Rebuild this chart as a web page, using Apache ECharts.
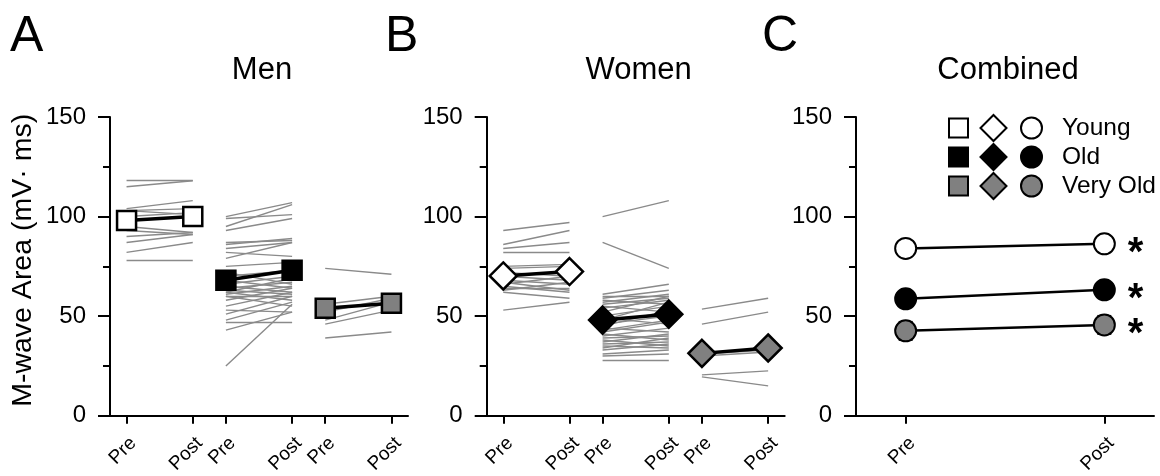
<!DOCTYPE html>
<html>
<head>
<meta charset="utf-8">
<script src="https://cdn.jsdelivr.net/npm/echarts@6/dist/echarts.min.js"></script>
<style>html,body{margin:0;padding:0;background:#fff}#c{width:1160px;height:476px}</style>
</head>
<body>
<div id="c"></div>
<script>
// ---- tick labels / positions ----
const tickLabels = ['Pre', 'Post', 'Pre', 'Post', 'Pre', 'Post'];
const tickPos = [0, 2, 3, 5, 6, 8];
const combTickLabels = ['Pre', 'Post'];
const combTickPos = [0, 1];
const groups = ['Young', 'Old', 'Very Old'];
const panelTitles = ['Men', 'Women', 'Combined'];

// ---- Men individual data ----
const menYoungPre  = [118, 115, 104, 103, 100, 98, 95, 93, 90, 87, 82, 78, 103];
const menYoungPost = [118, 118, 108, 104, 102, 100, 92, 91, 92, 91, 87, 78, 101];
const menOldPre  = [100, 99, 95, 93, 87, 86, 84, 82, 79, 75, 72, 70, 68, 66, 65, 64, 63, 62, 61, 60, 60, 58, 55, 53, 51, 48, 47, 43, 25, 62];
const menOldPost = [107, 101, 106, 99, 88, 89, 87, 80, 87, 77, 66, 73, 64, 70, 62, 67, 61, 58, 65, 55, 60, 64, 62, 52, 60, 57, 47, 52, 56, 69];
const menVeryOldPre  = [74, 56, 52, 48, 46, 39];
const menVeryOldPost = [71, 60, 59, 57, 53, 42];
const menMeanPre  = [98, 68, 54];
const menMeanPost = [100, 73, 56.5];

// ---- Women individual data ----
const womenYoungPre  = [93, 86, 84, 82, 75, 74, 72, 70, 68, 66, 65, 64, 63, 62, 53, 67];
const womenYoungPost = [97, 93, 87, 82, 76, 75, 70, 68, 66, 70, 62, 64, 67, 59, 57, 63];
const womenOldPre  = [100, 87, 61, 60, 59, 58, 57, 56, 55, 54, 52, 50, 49, 48, 46, 45, 44, 43, 42, 41, 40, 39, 38, 37, 36, 35, 34, 33, 31, 30, 28];
const womenOldPost = [108, 74, 66, 60, 63, 56, 61, 59, 52, 58, 60, 55, 46, 57, 50, 53, 42, 48, 47, 38, 44, 40, 35, 41, 37, 34, 39, 36, 33, 31, 28];
const womenVeryOldPre  = [53.5, 46, 31, 30, 20.5, 19.5];
const womenVeryOldPost = [59, 52, 33, 32, 22.5, 15];
const womenMeanPre  = [70.2, 48, 31.3];
const womenMeanPost = [72.4, 51, 34];

// ---- Combined ----
const combMeanPre  = [84, 58.7, 42.6];
const combMeanPost = [86.3, 63.2, 45.6];
const combErrPre  = [1.5, 2, 4.5];
const combErrPost = [1.5, 2, 4.5];

const FONT = '"Liberation Sans", Arial, sans-serif';
const fills = ['#ffffff', '#000000', '#808080'];
const GRAY = '#8a8a8a';

const gridLefts = [110, 486.7, 856];
const GRID_W = 298, GRID_TOP = 117, GRID_H = 298.7;

function yAxis(i) {
  return {
    type: 'value', gridIndex: i, min: 0, max: 150, interval: 50,
    axisLine: { show: true, onZero: false, lineStyle: { color: '#000', width: 2 } },
    axisTick: { show: true, length: 12, lineStyle: { color: '#000', width: 2 } },
    minorTick: { show: true, splitNumber: 2, length: 7, lineStyle: { color: '#000', width: 2 } },
    splitLine: { show: false },
    axisLabel: { margin: 24, fontSize: 24, color: '#000', fontFamily: FONT },
    name: i === 0 ? 'M-wave Area (mV\u00b7 ms)' : '',
    nameLocation: 'middle', nameGap: 72, nameRotate: 90,
    nameTextStyle: { fontSize: 28.5, color: '#000', fontFamily: FONT, padding: [0, 0, 0, 12] }
  };
}
function xAxis(i, pos, labels, min, max) {
  return {
    type: 'value', gridIndex: i, min: min, max: max,
    axisLine: { show: true, onZero: false, lineStyle: { color: '#000', width: 2 } },
    axisTick: { show: true, length: 8, customValues: pos, lineStyle: { color: '#000', width: 2 } },
    axisLabel: {
      customValues: pos, rotate: 45, margin: 18, verticalAlign: 'top', fontSize: 19, color: '#000', fontFamily: FONT,
      formatter: v => labels[pos.indexOf(v)] || ''
    },
    splitLine: { show: false }
  };
}

const series = [];
function indiv(axis, x0, x1, pre, post) {
  series.push({
    type: 'lines', coordinateSystem: 'cartesian2d', xAxisIndex: axis, yAxisIndex: axis, z: 2,
    silent: true,
    lineStyle: { color: GRAY, width: 1.4, opacity: 1, curveness: 0 },
    data: pre.map((p, k) => ({ coords: [[x0, p], [x1, post[k]]] }))
  });
}
indiv(0, 0, 2, menYoungPre, menYoungPost);
indiv(0, 3, 5, menOldPre, menOldPost);
indiv(0, 6, 8, menVeryOldPre, menVeryOldPost);
indiv(1, 0, 2, womenYoungPre, womenYoungPost);
indiv(1, 3, 5, womenOldPre, womenOldPost);
indiv(1, 6, 8, womenVeryOldPre, womenVeryOldPost);

function meanSeries(axis, symbol, size, preArr, postArr) {
  groups.forEach((g, k) => {
    series.push({
      type: 'line', name: g, xAxisIndex: axis, yAxisIndex: axis, z: 5,
      symbol: symbol, symbolSize: size, showSymbol: true,
      lineStyle: { color: '#000', width: 3.5 },
      itemStyle: { color: fills[k], borderColor: '#000', borderWidth: 2.5, opacity: 1 },
      data: [[tickPos[2 * k], preArr[k]], [tickPos[2 * k + 1], postArr[k]]]
    });
  });
}
meanSeries(0, 'rect', 19, menMeanPre, menMeanPost);
meanSeries(1, 'diamond', 27, womenMeanPre, womenMeanPost);

// combined error bars
series.push({
  type: 'custom', xAxisIndex: 2, yAxisIndex: 2, z: 4, silent: true,
  data: groups.flatMap((g, k) => [
    [0, combMeanPre[k] - combErrPre[k], combMeanPre[k] + combErrPre[k]],
    [1, combMeanPost[k] - combErrPost[k], combMeanPost[k] + combErrPost[k]]
  ]),
  renderItem: (params, api) => {
    const x = api.value(0);
    const lo = api.coord([x, api.value(1)]);
    const hi = api.coord([x, api.value(2)]);
    const w = 7, st = { stroke: '#000', lineWidth: 2 };
    return { type: 'group', children: [
      { type: 'line', shape: { x1: lo[0], y1: lo[1], x2: hi[0], y2: hi[1] }, style: st },
      { type: 'line', shape: { x1: lo[0] - w, y1: lo[1], x2: lo[0] + w, y2: lo[1] }, style: st },
      { type: 'line', shape: { x1: hi[0] - w, y1: hi[1], x2: hi[0] + w, y2: hi[1] }, style: st }
    ]};
  }
});
groups.forEach((g, k) => {
  series.push({
    type: 'line', name: g, xAxisIndex: 2, yAxisIndex: 2, z: 5,
    symbol: 'circle', symbolSize: 21, showSymbol: true,
    lineStyle: { color: '#000', width: 2.5 },
    itemStyle: { color: fills[k], borderColor: '#000', borderWidth: 2, opacity: 1 },
    data: [
      [0, combMeanPre[k]],
      { value: [1, combMeanPost[k]], label: { show: true, formatter: '*', position: 'right', distance: 12,
        fontSize: 40, fontWeight: 'bold', color: '#000', fontFamily: FONT, offset: [0, 10] } }
    ]
  });
});

// ---- graphic: panel letters, titles, legend ----
const graphic = [];
const letters = ['A', 'B', 'C'];
const letterX = [10, 385, 762];
letters.forEach((L, i) => graphic.push({ type: 'text', left: letterX[i], top: 12,
  style: { text: L, fontSize: 50, fontFamily: FONT, fill: '#000' } }));
panelTitles.forEach((t, i) => graphic.push({ type: 'text', x: gridLefts[i] + GRID_W / 2 + 3, y: 70,
  style: { text: t, fontSize: 31, fontFamily: FONT, fill: '#000', align: 'center', verticalAlign: 'middle' } }));
const legY = [128, 157, 186];
groups.forEach((g, k) => {
  const y = legY[k];
  graphic.push({ type: 'rect', shape: { x: 949, y: y - 9.5, width: 19, height: 19 },
    style: { fill: fills[k], stroke: '#000', lineWidth: 2 } });
  graphic.push({ type: 'polygon', shape: { points: [[993.5, y - 13], [1006.5, y], [993.5, y + 13], [980.5, y]] },
    style: { fill: fills[k], stroke: '#000', lineWidth: 2 } });
  graphic.push({ type: 'circle', shape: { cx: 1031.5, cy: y, r: 10.5 },
    style: { fill: fills[k], stroke: '#000', lineWidth: 2 } });
  graphic.push({ type: 'text', x: 1062, y: y,
    style: { text: g, fontSize: 24.5, fontFamily: FONT, fill: '#000', verticalAlign: 'middle' } });
});

const option = {
  animation: false,
  backgroundColor: '#fff',
  grid: gridLefts.map(l => ({ left: l, top: GRID_TOP, width: GRID_W, height: GRID_H, outerBoundsMode: 'none', containLabel: false })),
  xAxis: [
    xAxis(0, tickPos, tickLabels, -0.5, 8.5),
    xAxis(1, tickPos, tickLabels, -0.5, 8.5),
    xAxis(2, combTickPos, combTickLabels, -0.25, 1.25)
  ],
  yAxis: [yAxis(0), yAxis(1), yAxis(2)],
  series: series,
  graphic: graphic
};
const chart = echarts.init(document.getElementById('c'), null, { renderer: 'canvas' });
chart.setOption(option);
</script>
</body>
</html>
